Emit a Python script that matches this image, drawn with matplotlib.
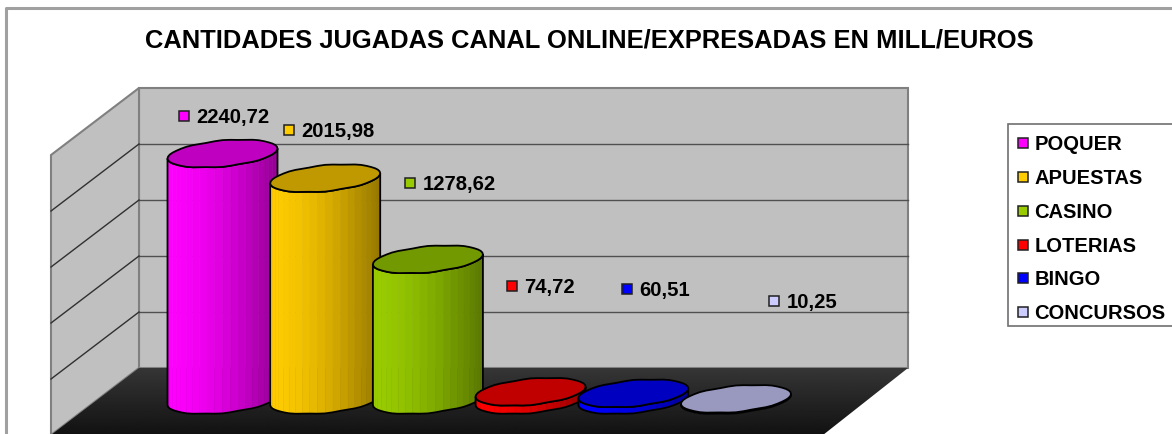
import numpy as np
import matplotlib
matplotlib.use('Agg')
import matplotlib.pyplot as plt
from matplotlib.lines import Line2D
from matplotlib.patches import Polygon, Rectangle

categories = ['POQUER', 'APUESTAS', 'CASINO', 'LOTERIAS', 'BINGO', 'CONCURSOS']
values = [2240.72, 2015.98, 1278.62, 74.72, 60.51, 10.25]
value_labels = ['2240,72', '2015,98', '1278,62', '74,72', '60,51', '10,25']
grid_values = [0, 500, 1000, 1500, 2000, 2500]
colors = ['#FF00FF', '#FFCC00', '#99CC00', '#FF0000', '#0000FF', '#CCCCFF']
top_colors = ['#C000C0', '#C09900', '#739900', '#C00000', '#0000C0', '#9999BF']

# posicion de las etiquetas (pixeles)
label_x = [184, 289, 410, 512, 627, 774]
label_y = [116, 130, 183, 286, 289, 301]

plt.rcParams['font.family'] = ['Liberation Sans', 'DejaVu Sans']

fig = plt.figure(figsize=(11.72, 4.34), dpi=100)
ax = fig.add_axes([0, 0, 1, 1])

# marco exterior
ax.plot([5.5, 5.5, 1172], [434, 7.5, 7.5], color='#A0A0A0', lw=2.2, zorder=1)

# paredes
back_l, back_r, back_b = 139, 908, 368
dx, dy = 88, 67
wall_scale = 0.112
ax.add_patch(Rectangle((back_l, 88), back_r - back_l, back_b - 88, fc='#C0C0C0', ec='#808080', lw=1.5, zorder=2))
ax.add_patch(Polygon([(back_l - dx, 88 + dy), (back_l, 88), (back_l, back_b), (back_l - dx, back_b + dy)],
                     fc='#C0C0C0', ec='#808080', lw=1.5, zorder=2))
for g in grid_values[1:-1]:
    gy = back_b - g * wall_scale
    ax.plot([back_l, back_r], [gy, gy], color='#505050', lw=1.0, zorder=3)
    ax.plot([back_l - dx, back_l], [gy + dy, gy], color='#303030', lw=1.0, zorder=3)

# suelo con degradado
floor = Polygon([(back_l, back_b), (back_r, back_b), (back_r - 85, 434 + 1), (back_l - 88, 434 + 1)],
                fc='none', ec='none', zorder=3, transform=ax.transData)
ax.add_patch(floor)
grad = np.linspace(0.21, 0.07, 64).reshape(-1, 1)
im = ax.imshow(grad, cmap='gray', vmin=0, vmax=1, extent=(40, 920, 435, 368), aspect='auto', zorder=3)
im.set_clip_path(floor)


def shade(c, f):
    return tuple(np.array(matplotlib.colors.to_rgb(c)) * f)


def rim(t):
    # borde un poco ondulado, como el cilindro facetado del original
    return b * np.sin(t) - tilt * np.cos(t) + 0.4 * np.sin(t) ** 2 * np.sin(9 * t)


# cilindros
col_x0, col_step = 222.5, 102.7
a, b, tilt = 55.0, 13.0, 5.0
base_y = 400
col_scale = 0.11
facets = 22
for i, v in enumerate(values):
    z = 5 + i
    cx = col_x0 + i * col_step
    h = v * col_scale
    top_y = base_y - h
    t = np.linspace(np.pi, 0, facets + 1)
    ex = cx + a * np.cos(t)
    ey = rim(t)
    for k in range(facets):
        frac = (0.5 * (ex[k] + ex[k + 1]) - ex[0]) / (2 * a)
        f = 1 - 0.42 * frac ** 1.6
        c = shade(colors[i], f)
        ax.add_patch(Polygon([(ex[k], base_y + ey[k]), (ex[k + 1], base_y + ey[k + 1]),
                              (ex[k + 1], top_y + ey[k + 1]), (ex[k], top_y + ey[k])],
                             fc=c, ec=c, lw=0.4, zorder=z))
    body_x = np.concatenate([ex, ex[::-1]])
    body_y = np.concatenate([base_y + ey, (top_y + ey)[::-1]])
    ax.add_patch(Polygon(np.column_stack([body_x, body_y]), fc='none', ec='black', lw=1.3, zorder=z))
    t2 = np.linspace(0, 2 * np.pi, 2 * facets + 1)
    ax.add_patch(Polygon(np.column_stack([cx + a * np.cos(t2), top_y + rim(t2)]),
                         fc=top_colors[i], ec='black', lw=1.3, zorder=z))

# etiquetas de valores
for i, txt in enumerate(value_labels):
    ax.plot(label_x[i], label_y[i], marker='s', ms=7.5, mfc=colors[i], mec='#202020', mew=1.1, zorder=20)
    ax.text(label_x[i] + 12.5, label_y[i] + 1.5, txt, fontsize=14.6, fontweight='bold',
            va='center', ha='left', color='black', zorder=20)

# titulo
ax.text(589, 40.5, 'CANTIDADES JUGADAS CANAL ONLINE/EXPRESADAS EN MILL/EUROS', fontsize=18.4,
        fontweight='bold', ha='center', va='center', color='black', zorder=20)

# leyenda: el marco va aparte porque el texto no queda centrado en la caja
ax.add_patch(Rectangle((1008, 124), 166, 202, fc='white', ec='#707070', lw=1.2, zorder=19))
handles = [Line2D([], [], ls='none', marker='s', ms=7.5, mfc=c, mec='#202020', mew=1.1, label=n)
           for c, n in zip(colors, categories)]
leg = ax.legend(handles=handles, loc='upper left', bbox_to_anchor=(1003, 124), bbox_transform=ax.transData,
                frameon=False, borderaxespad=0, prop={'weight': 'bold', 'size': 14.5},
                labelspacing=0.73, handlelength=0.8, handletextpad=0.2, borderpad=0.57)
leg.set_zorder(20)

ax.set_xlim(0, 1172)
ax.set_ylim(434, 0)
ax.axis('off')

fig.savefig('out.png', dpi=100, facecolor='white')
